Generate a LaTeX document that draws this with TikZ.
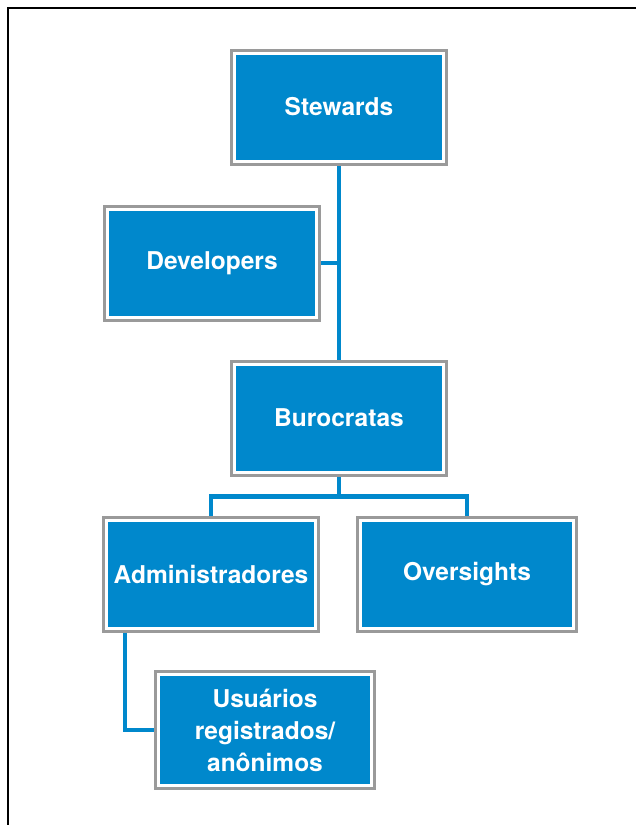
\documentclass[tikz,border=0pt]{standalone}
\usepackage{fontspec}
\setmainfont{TeX Gyre Heros}
\usetikzlibrary{calc,backgrounds}
\definecolor{roleblue}{HTML}{0088CC}
\definecolor{rolegray}{HTML}{9A9A9A}
\tikzset{
  every picture/.append style={line width=0.6pt},
}
\begin{document}
\begin{tikzpicture}[
  x=1pt, y=-1pt,
  role/.style={draw=rolegray, line width=3pt, fill=white, minimum width=215pt, minimum height=114pt,
    align=center, text=white, font=\fontsize{24.5}{32}\selectfont\bfseries, inner sep=0pt,
    path picture={\fill[roleblue] ([shift={(4.5pt,-4.5pt)}]path picture bounding box.north west)
      rectangle ([shift={(-4.5pt,4.5pt)}]path picture bounding box.south east);}},
  link/.style={draw=roleblue, line width=4.5pt}
]
% page and frame
\useasboundingbox (0,0) rectangle (636,825);
\draw[line width=1.6pt] (8,825) -- (8,8) -- (636,8);

% roles
\node[role] (stew) at (339,107) {Stewards};
\node[role] (dev) at (212,263) {Developers};
\node[role] (buro) at (339,418) {Burocratas};
\node[role] (admin) at (211,574) {Administradores};
\node[role, minimum width=219pt] (over) at (467,574) {Oversights};
\node[role, minimum width=219pt, minimum height=117pt] (user) at (265,730) {Usuários\\registrados/\\anônimos};

% connectors
\begin{scope}[on background layer]
\draw[link] (stew.south) -- (buro.north);
\draw[link] (dev.east) -- (dev.east -| stew.south);
\coordinate (fork) at ($(buro.south)+(0,20)$);
\draw[link] (buro.south) -- (fork) -| (admin.north);
\draw[link] (fork) -| (over.north);
\draw[link] ($(admin.south west)+(23,0)$) |- (user.west);
\end{scope}
\end{tikzpicture}
\end{document}
